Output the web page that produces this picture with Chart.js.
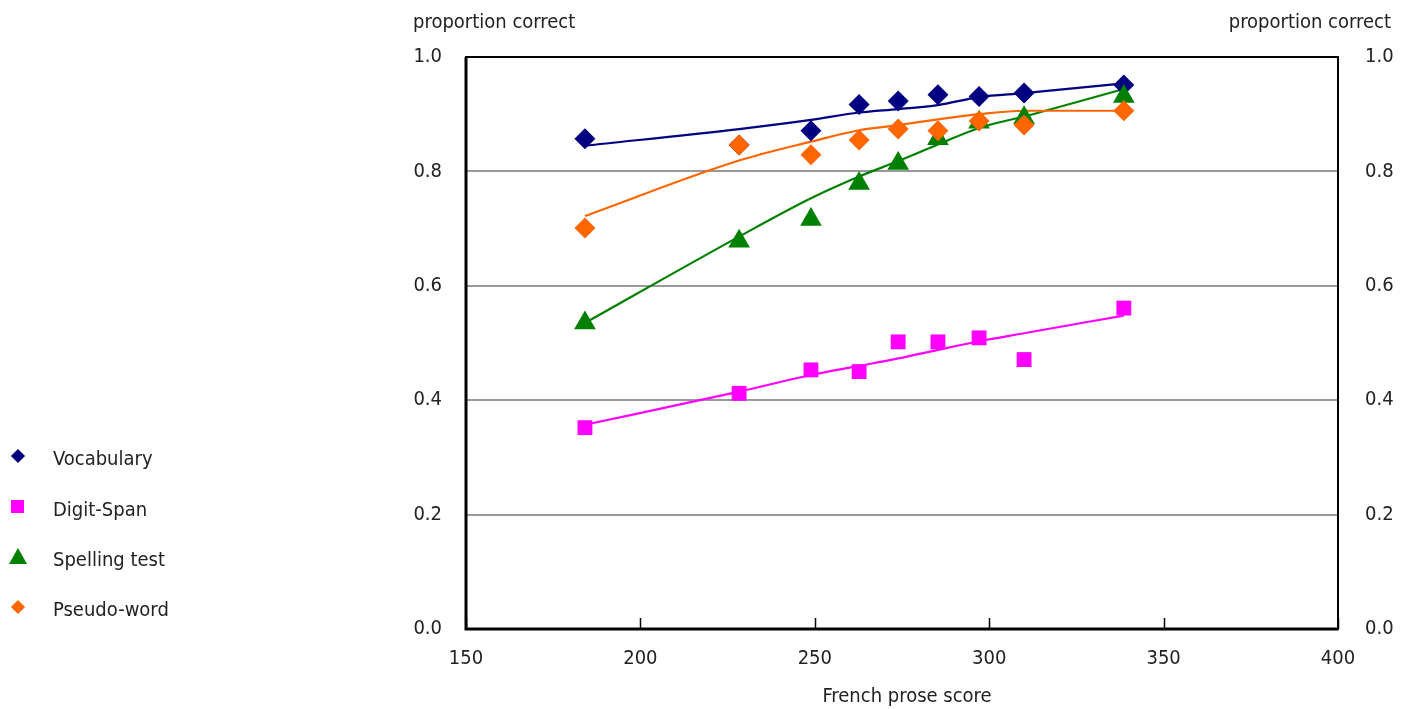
<!DOCTYPE html>
<html>
<head>
<meta charset="utf-8">
<script src="https://cdn.jsdelivr.net/npm/chart.js@4.4.1/dist/chart.umd.min.js"></script>
<style>
  html, body { margin: 0; padding: 0; background: #fff; }
  #wrap { position: relative; width: 1408px; height: 709px; }
  #legend { position: absolute; left: 0; top: 0; font-family: 'DejaVu Sans Condensed', 'Liberation Sans Narrow', sans-serif; font-size: 20px; color: #222; }
  .item { position: absolute; left: 0; height: 24px; white-space: nowrap; }
  .item span { position: absolute; left: 53px; top: 0; line-height: 24px; }
  .mk { position: absolute; }
</style>
</head>
<body>
<div id="wrap">
  <canvas id="chart" width="1408" height="709"></canvas>
  <div id="legend"></div>
</div>
<script>
// French prose score of each group
var scoreX = [184.1, 228.3, 248.9, 262.7, 273.9, 285.3, 297.1, 310.0, 338.6];

// observed proportions correct
var vocabulary  = [0.857, 0.846, 0.871, 0.917, 0.923, 0.934, 0.931, 0.937, 0.951];
var digitSpan   = [0.352, 0.412, 0.453, 0.450, 0.502, 0.502, 0.509, 0.471, 0.561];
var spelling    = [0.535, 0.678, 0.716, 0.779, 0.814, 0.857, 0.886, 0.894, 0.931];
var pseudoWord  = [0.701, 0.846, 0.829, 0.855, 0.874, 0.871, 0.888, 0.881, 0.906];

// fitted curves
var vocabularyFit = [0.845, 0.874, 0.890, 0.903, 0.909, 0.916, 0.930, 0.937, 0.954];
var digitSpanFit  = [0.357, 0.415, 0.444, 0.460, 0.473, 0.488, 0.503, 0.517, 0.548];
var spellingFit   = [0.535, 0.686, 0.753, 0.791, 0.818, 0.847, 0.876, 0.896, 0.944];
var pseudoWordFit = [0.722, 0.819, 0.852, 0.872, 0.881, 0.891, 0.900, 0.906, 0.906];

var xTicks = [150, 200, 250, 300, 350, 400];
var yTicks = [0.0, 0.2, 0.4, 0.6, 0.8, 1.0];

var seriesNames = ['Vocabulary', 'Digit-Span', 'Spelling test', 'Pseudo-word'];
var colors = ['#000080', '#ff00ff', '#008000', '#ff6600'];

var FONT = "'DejaVu Sans Condensed', 'Liberation Sans Narrow', sans-serif";
var TEXT = '#222';

function pts(ys) {
    return ys.map(function(y, i) { return { x: scoreX[i], y: y }; });
}

function marks(label, ys, color, style, radius, order) {
    return {
        type: 'scatter', label: label, data: pts(ys),
        pointStyle: style, pointRadius: radius, pointHoverRadius: radius,
        pointBackgroundColor: color, pointBorderColor: color, pointBorderWidth: 0,
        showLine: false, order: order
    };
}

function fit(ys, color, order) {
    return {
        type: 'line', label: '', data: pts(ys),
        borderColor: color, borderWidth: 2.2, pointRadius: 0,
        fill: false, cubicInterpolationMode: 'monotone', order: order
    };
}

var frame = {
    id: 'frame',
    afterDraw: function(chart) {
        var a = chart.chartArea, ctx = chart.ctx, xs = chart.scales.x;
        ctx.save();
        ctx.strokeStyle = '#000';
        ctx.lineWidth = 2;
        ctx.strokeRect(a.left, a.top, a.right - a.left, a.bottom - a.top);
        ctx.lineWidth = 3;
        ctx.beginPath();
        ctx.moveTo(a.left, a.top);
        ctx.lineTo(a.left, a.bottom);
        ctx.lineTo(a.right, a.bottom);
        ctx.stroke();
        ctx.lineWidth = 1.5;
        xTicks.forEach(function(v) {
            var px = Math.round(xs.getPixelForValue(v)) + 0.5;
            ctx.beginPath();
            ctx.moveTo(px, a.bottom);
            ctx.lineTo(px, a.bottom - 11);
            ctx.stroke();
        });
        ctx.fillStyle = TEXT;
        ctx.font = '20px ' + FONT;
        ctx.textBaseline = 'middle';
        ctx.textAlign = 'left';
        ctx.fillText('proportion correct', 413, 23);
        ctx.textAlign = 'right';
        ctx.fillText('proportion correct', 1391, 23);
        ctx.textAlign = 'center';
        ctx.fillText('French prose score', (a.left + a.right) / 2 + 5, 697);
        ctx.restore();
    }
};

new Chart(document.getElementById('chart'), {
    data: {
        datasets: [
            marks(seriesNames[0], vocabulary, colors[0], 'rectRot', 10.5, 4),
            marks(seriesNames[1], digitSpan, colors[1], 'rect', 10.5, 3),
            marks(seriesNames[2], spelling, colors[2], 'triangle', 12.5, 2),
            marks(seriesNames[3], pseudoWord, colors[3], 'rectRot', 10.5, 1),
            fit(vocabularyFit, colors[0], 8),
            fit(digitSpanFit, colors[1], 7),
            fit(spellingFit, colors[2], 6),
            fit(pseudoWordFit, colors[3], 5)
        ]
    },
    options: {
        responsive: false,
        animation: false,
        devicePixelRatio: 1,
        layout: { padding: { left: 380, right: 0, top: 57, bottom: 0 } },
        plugins: { legend: { display: false }, tooltip: { enabled: false } },
        scales: {
            x: {
                type: 'linear', min: 150, max: 400,
                afterFit: function(s) { s.height = 80; },
                afterBuildTicks: function(s) { s.ticks = xTicks.map(function(v) { return { value: v }; }); },
                grid: { display: false, drawTicks: false },
                border: { display: false },
                ticks: { padding: 18, color: TEXT, font: { family: FONT, size: 20 } }
            },
            y: {
                type: 'linear', position: 'left', min: 0, max: 1,
                afterFit: function(s) { s.width = 86; },
                afterBuildTicks: function(s) { s.ticks = yTicks.map(function(v) { return { value: v }; }); },
                grid: {
                    drawTicks: false, lineWidth: 2,
                    color: function(c) { var v = c.tick ? c.tick.value : 0; return (v > 0.01 && v < 0.99) ? '#999' : 'rgba(0,0,0,0)'; }
                },
                border: { display: false },
                ticks: { padding: 24, color: TEXT, font: { family: FONT, size: 20 }, callback: function(v) { return Number(v).toFixed(1); } }
            },
            y2: {
                type: 'linear', position: 'right', min: 0, max: 1,
                afterFit: function(s) { s.width = 70; },
                afterBuildTicks: function(s) { s.ticks = yTicks.map(function(v) { return { value: v }; }); },
                grid: { display: false, drawTicks: false },
                border: { display: false },
                ticks: { padding: 27, color: TEXT, font: { family: FONT, size: 20 }, callback: function(v) { return Number(v).toFixed(1); } }
            }
        }
    },
    plugins: [frame]
});

// legend
var legendRows = [458, 509, 559, 609];
var legend = document.getElementById('legend');
seriesNames.forEach(function(name, i) {
    var item = document.createElement('div');
    item.className = 'item';
    item.style.top = (legendRows[i] - 12) + 'px';
    var mk = document.createElement('div');
    mk.className = 'mk';
    if (i === 0 || i === 3) {
        mk.style.cssText = 'left:13px;top:5px;width:10px;height:10px;transform:rotate(45deg);background:' + colors[i];
    } else if (i === 1) {
        mk.style.cssText = 'left:11px;top:3px;width:13px;height:13px;background:' + colors[i];
    } else {
        mk.style.cssText = 'left:9px;top:1px;width:0;height:0;border-left:9px solid transparent;border-right:9px solid transparent;border-bottom:16px solid ' + colors[i];
    }
    var t = document.createElement('span');
    t.textContent = name;
    item.appendChild(mk);
    item.appendChild(t);
    legend.appendChild(item);
});
</script>
</body>
</html>
